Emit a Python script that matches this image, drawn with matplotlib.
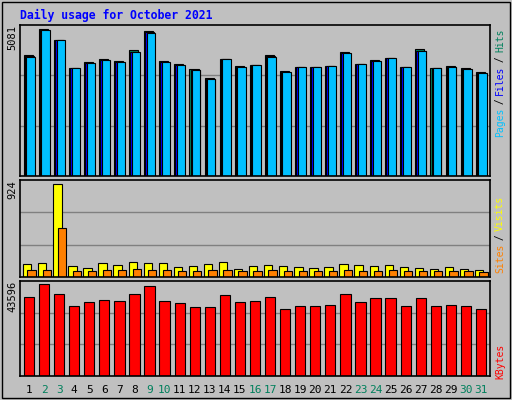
import matplotlib
matplotlib.use('Agg')
import matplotlib.pyplot as plt
import numpy as np

days = list(range(1, 32))
weekend = [2, 3, 9, 10, 16, 17, 23, 24, 30, 31]
hits = [4182, 5081, 4700, 3733, 3940, 4044, 3975, 4355, 5011, 3975, 3871, 3698, 3387, 4044, 3802, 3836,
        4182, 3629, 3767, 3767, 3802, 4286, 3871, 4009, 4078, 3767, 4390, 3733, 3802, 3733, 3594]
files = [4140, 5050, 4700, 3733, 3900, 4010, 3940, 4300, 4970, 3940, 3830, 3660, 3350, 4044, 3770, 3836,
         4140, 3595, 3767, 3767, 3802, 4250, 3871, 3975, 4078, 3767, 4330, 3733, 3770, 3700, 3560]
pages = [4130, 5040, 4690, 3725, 3890, 4000, 3930, 4290, 4960, 3930, 3820, 3650, 3340, 4035, 3760, 3826,
         4130, 3585, 3757, 3757, 3792, 4240, 3861, 3965, 4068, 3757, 4320, 3723, 3760, 3690, 3550]
visits = [129, 139, 924, 109, 89, 139, 119, 149, 139, 139, 99, 109, 129, 149, 80, 109,
          119, 109, 99, 89, 99, 129, 119, 109, 119, 99, 89, 80, 99, 80, 70]
sites = [70, 70, 487, 60, 60, 70, 70, 80, 70, 70, 60, 60, 70, 70, 60, 60,
         70, 60, 60, 60, 60, 70, 60, 60, 70, 60, 60, 60, 60, 60, 50]
kbytes = [37450, 43596, 38870, 33180, 35080, 36020, 35550, 38870, 42650, 35550, 34600, 32710, 32710,
          38400, 35080, 35550, 37450, 31760, 33180, 33180, 33650, 38870, 35080, 36960, 36960, 33180,
          36960, 33180, 33650, 33180, 31760]

W, H = 512, 400
BG = '#c0c0c0'
fig = plt.figure(figsize=(W / 100, H / 100), dpi=100, facecolor=BG)
mono = 'DejaVu Sans Mono'
x = np.array(days)


def panel(top, bottom):
    ax = fig.add_axes([20 / W, 1 - bottom / H, 470 / W, (bottom - top) / H], facecolor=BG)
    ax.set_xlim(0.4, 31.6)
    ax.set_xticks([])
    ax.set_yticks([])
    for s in ax.spines.values():
        s.set_linewidth(1.2)
    return ax


edge = dict(edgecolor='black', linewidth=0.8)

ax1 = panel(25, 176)
top1 = 5081 * 151 / 147
ax1.set_ylim(0, top1)
for g in (top1 / 3, 2 * top1 / 3):
    ax1.axhline(g, color='#808080', lw=1, zorder=0)
ax1.bar(x - 0.05, hits, width=0.6, color='#00805c', **edge)
ax1.bar(x + 0.02, files, width=0.6, color='#0000ff', **edge)
ax1.bar(x + 0.1, pages, width=0.55, color='#00c0ff', **edge)

ax2 = panel(180, 277)
top2 = 924 * 97 / 93
ax2.set_ylim(0, top2)
for g in (top2 / 3, 2 * top2 / 3):
    ax2.axhline(g, color='#808080', lw=1, zorder=0)
ax2.bar(x - 0.12, visits, width=0.55, color='#ffff00', **edge)
ax2.bar(x + 0.17, sites, width=0.55, color='#ff8000', **edge)

ax3 = panel(281, 376)
top3 = 43596 * 95 / 92
ax3.set_ylim(0, top3)
for g in (top3 / 3, 2 * top3 / 3):
    ax3.axhline(g, color='#808080', lw=1, zorder=0)
ax3.bar(x, kbytes, width=0.68, color='#ff0000', **edge)

# max labels on the left
for ax, lab in ((ax1, '5081'), (ax2, '924'), (ax3, '43596')):
    ax.text(-0.005, 1.0, lab, transform=ax.transAxes, rotation=90, ha='right', va='top',
            fontsize=7.5, family=mono)

# day labels
for d in days:
    fig.text((20 + (d - 0.4) / 31.2 * 470) / W, 1 - 390 / H, str(d), ha='center', va='center',
             fontsize=8, family=mono, color='#00805c' if d in weekend else 'black')

fig.text(20 / W, 1 - 15 / H, 'Daily usage for October 2021', color='#0000ff', fontsize=8.3,
         fontweight='bold', family=mono, va='center')


def side(parts, y0):
    # parts drawn bottom to top, rotated text
    y = y0
    for txt, col in parts:
        n = len(txt)
        fig.text(500 / W, 1 - (y - n * 2.65) / H, txt, rotation=90, color=col, fontsize=7,
                 family=mono, ha='center', va='center')
        y -= n * 5.3


side([('Pages', '#00c0ff'), (' / ', 'black'), ('Files', '#0000ff'), (' / ', 'black'),
      ('Hits', '#00805c')], 136)
side([('Sites', '#ff8000'), (' / ', 'black'), ('Visits', '#ffff00')], 272)
side([('KBytes', '#ff0000')], 377)

# outer border
fig.add_artist(plt.Rectangle((2 / W, 2 / H), 508 / W, 396 / H, transform=fig.transFigure,
                             fill=False, edgecolor='black', lw=1))
fig.savefig('out.png', dpi=100, facecolor=BG)
